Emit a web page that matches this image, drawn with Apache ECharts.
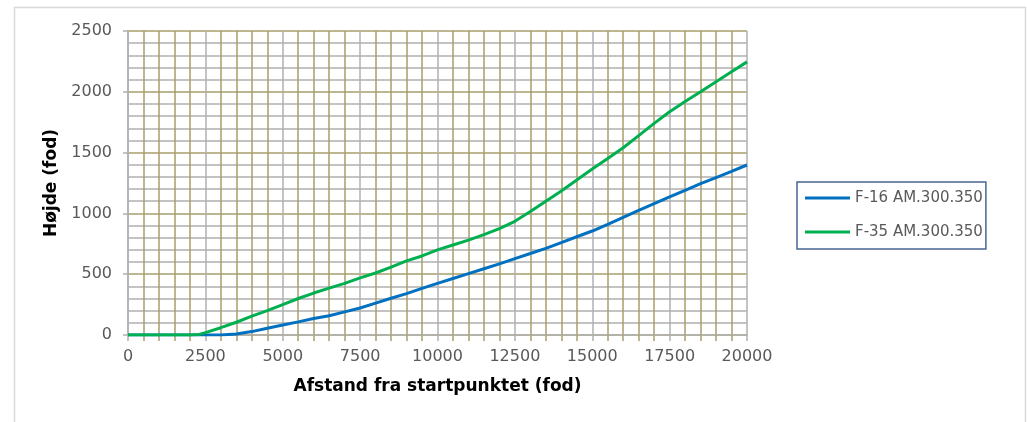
<!DOCTYPE html>
<html>
<head>
<meta charset="utf-8">
<script src="https://cdn.jsdelivr.net/npm/echarts@6/dist/echarts.min.js"></script>
<style>
html,body{margin:0;padding:0;background:#fff;}
#chart{width:1027px;height:422px;}
</style>
</head>
<body>
<div id="chart"></div>
<script>
const distances = [0,500,1000,1500,2000,2300,2500,3000,3500,4000,4500,5000,5500,6000,6500,7000,7500,8000,8500,9000,9500,10000,10500,11000,11500,12000,12500,13000,13500,14000,14500,15000,15500,16000,16500,17000,17500,18000,18500,19000,19500,20000];
const f16 = [0,0,0,0,0,0,0,0,8,28,55,82,108,135,158,190,222,262,302,340,383,425,465,505,545,585,628,670,712,760,808,855,910,968,1025,1080,1135,1190,1245,1295,1345,1398];
const f35 = [0,0,0,0,0,5,20,60,105,155,200,250,300,345,385,425,470,510,558,610,650,700,740,780,825,875,935,1015,1100,1185,1275,1365,1452,1540,1640,1740,1836,1920,2000,2082,2165,2246];
const seriesNames = ['F-16 AM.300.350','F-35 AM.300.350'];
const xTitle = 'Afstand fra startpunktet (fod)';
const yTitle = 'Højde (fod)';

const OLIVE = '#a89e6c';
const GREY = '#b0b0b0';
const FONT = 'DejaVu Sans';

const chart = echarts.init(document.getElementById('chart'), null, {renderer:'canvas'});
chart.setOption({
  animation:false,
  backgroundColor:'#fff',
  graphic:[{type:'rect',shape:{x:14.5,y:7.5,width:1011,height:430},style:{fill:'none',stroke:'#d9d9d9',lineWidth:1.5},z:-10}],
  grid:{left:128,top:31,width:619,height:304,containLabel:false},
  legend:{
    orient:'vertical',left:797,top:182,
    data:seriesNames,
    icon:'rect',itemWidth:45,itemHeight:3,itemGap:16,
    padding:[7,3,8,8],
    borderColor:'#4a6690',borderWidth:1.5,
    textStyle:{fontFamily:FONT,fontSize:15,color:'#595959',lineHeight:18}
  },
  xAxis:{
    type:'value',min:0,max:20000,interval:2500,
    name:xTitle,nameLocation:'middle',nameGap:43,
    nameTextStyle:{fontFamily:FONT,fontSize:17,fontWeight:'bold',color:'#000'},
    axisLine:{show:true,lineStyle:{color:GREY,width:1.5}},
    axisTick:{show:true,length:6,lineStyle:{color:GREY,width:1.5}},
    minorTick:{show:true,splitNumber:5,length:6,lineStyle:{color:OLIVE,width:1.5}},
    axisLabel:{fontFamily:FONT,fontSize:16,color:'#595959',margin:14,formatter:v=>String(v)},
    splitLine:{show:true,lineStyle:{color:GREY,width:1.5}},
    minorSplitLine:{show:true,lineStyle:{color:OLIVE,width:1.5}}
  },
  yAxis:{
    type:'value',min:0,max:2500,interval:500,
    name:yTitle,nameLocation:'middle',nameGap:66,nameRotate:90,
    nameTextStyle:{fontFamily:FONT,fontSize:17,fontWeight:'bold',color:'#000'},
    axisLine:{show:true,lineStyle:{color:GREY,width:1.5}},
    axisTick:{show:true,length:5,lineStyle:{color:GREY,width:1.5}},
    axisLabel:{fontFamily:FONT,fontSize:16,color:'#595959',margin:16,formatter:v=>String(v)},
    splitLine:{show:true,lineStyle:{color:OLIVE,width:1.5}},
    minorTick:{show:false,splitNumber:5},
    minorSplitLine:{show:true,lineStyle:{color:'#b0b0b0',width:1.5}}
  },
  series:[
    {name:seriesNames[0],type:'line',showSymbol:false,smooth:false,
     data:distances.map((d,i)=>[d,f16[i]]),
     lineStyle:{color:'#0070c0',width:3},itemStyle:{color:'#0070c0'},z:5},
    {name:seriesNames[1],type:'line',showSymbol:false,smooth:false,
     data:distances.map((d,i)=>[d,f35[i]]),
     lineStyle:{color:'#00b050',width:3},itemStyle:{color:'#00b050'},z:6}
  ]
});
</script>
</body>
</html>
